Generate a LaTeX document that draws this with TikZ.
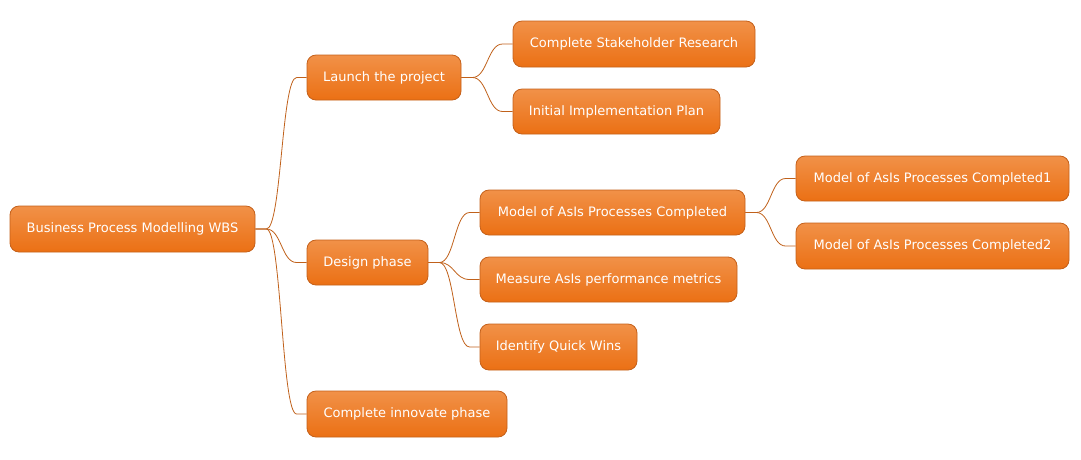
\documentclass[tikz,border=0pt]{standalone}
\usepackage{fontspec}
\setmainfont{DejaVu Sans}
\usetikzlibrary{calc}
\definecolor{boxtop}{HTML}{F19148}
\definecolor{boxbot}{HTML}{EB7014}
\definecolor{boxline}{HTML}{C4601A}
\definecolor{connline}{HTML}{C0611B}
\tikzset{
  mmbox/.style={rectangle, rounded corners=9pt, draw=boxline, line width=0.8pt,
    top color=boxtop, bottom color=boxbot, text=white, font=\fontsize{13}{15}\selectfont,
    inner sep=0pt, anchor=center},
  conn/.style={draw=connline, line width=0.8pt}
}
\newcommand\mmedge[2]{%
  \coordinate (s) at ([xshift=11pt]#1.east);
  \coordinate (e) at ([xshift=-10pt]#2.west);
  \coordinate (m) at ($(s)!0.5!(e)$);
  \draw[conn] (#1.east) -- (s) .. controls (m |- s) and (m |- e) .. (e) -- (#2.west);}
\begin{document}
\begin{tikzpicture}[x=1pt,y=-1pt]
\useasboundingbox (0,0) rectangle (1081,459);
\node[mmbox, minimum width=245pt, minimum height=46pt] (root) at (132.5,229) {Business Process Modelling WBS};
\node[mmbox, minimum width=154pt, minimum height=45pt] (launch) at (384,77.5) {Launch the project};
\node[mmbox, minimum width=121pt, minimum height=45pt] (design) at (367.5,262.5) {Design phase};
\node[mmbox, minimum width=200pt, minimum height=46pt] (innov) at (407,414) {Complete innovate phase};
\node[mmbox, minimum width=242pt, minimum height=46pt] (stake) at (634,44) {Complete Stakeholder Research};
\node[mmbox, minimum width=207pt, minimum height=45pt] (plan) at (616.5,111.5) {Initial Implementation Plan};
\node[mmbox, minimum width=265pt, minimum height=45pt] (model) at (612.5,212.5) {Model of AsIs Processes Completed};
\node[mmbox, minimum width=257pt, minimum height=45pt] (measure) at (608.5,279.5) {Measure AsIs performance metrics};
\node[mmbox, minimum width=157pt, minimum height=46pt] (quick) at (558.5,347) {Identify Quick Wins};
\node[mmbox, minimum width=273pt, minimum height=45pt] (model1) at (932.5,178.5) {Model of AsIs Processes Completed1};
\node[mmbox, minimum width=273pt, minimum height=46pt] (model2) at (932.5,246) {Model of AsIs Processes Completed2};
\mmedge{root}{launch}
\mmedge{root}{design}
\mmedge{root}{innov}
\mmedge{launch}{stake}
\mmedge{launch}{plan}
\mmedge{design}{model}
\mmedge{design}{measure}
\mmedge{design}{quick}
\mmedge{model}{model1}
\mmedge{model}{model2}
\end{tikzpicture}
\end{document}
